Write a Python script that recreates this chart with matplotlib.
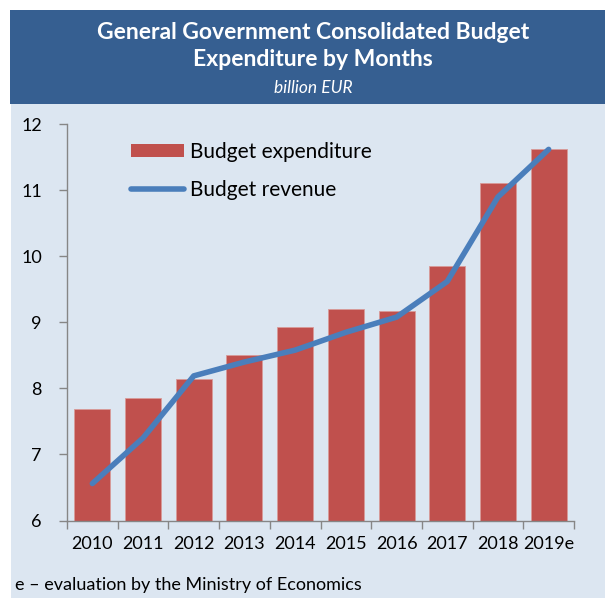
import matplotlib
matplotlib.use("Agg")
import matplotlib.pyplot as plt
from matplotlib.patches import Rectangle
from matplotlib.lines import Line2D

years = ["2010", "2011", "2012", "2013", "2014", "2015", "2016", "2017", "2018", "2019e"]
expenditure = [7.69, 7.86, 8.14, 8.51, 8.93, 9.20, 9.17, 9.85, 11.11, 11.63]
revenue = [6.56, 7.25, 8.19, 8.40, 8.58, 8.85, 9.08, 9.62, 10.90, 11.62]

title_lines = "General Government Consolidated Budget\nExpenditure by Months"
subtitle = "billion EUR"
footnote = "e \u2013 evaluation by the Ministry of Economics"

W, H = 605, 598
plt.rcParams["font.family"] = ["Lato", "DejaVu Sans"]

fig = plt.figure(figsize=(W / 100, H / 100), dpi=100)
fig.patch.set_facecolor("white")

def fx(px):
    return px / W

def fy(py):
    return 1 - py / H

# header band and light panel
fig.add_artist(Rectangle((fx(10), fy(104)), 1 - fx(10), fy(10) - fy(104),
                         transform=fig.transFigure, facecolor="#365F91",
                         edgecolor="none", zorder=0))
fig.add_artist(Rectangle((fx(11), 0), 1 - fx(11), fy(104),
                         transform=fig.transFigure, facecolor="#DCE6F1",
                         edgecolor="none", zorder=0))

fig.text(fx(313), fy(46), title_lines, ha="center", va="center", color="white",
         fontsize=16.5, fontweight="bold", linespacing=1.35)
fig.text(fx(313), fy(88), subtitle, ha="center", va="center", color="white",
         fontsize=12.5, fontstyle="italic")
fig.text(fx(15), fy(585), footnote, ha="left", va="center", color="black",
         fontsize=13)

ax = fig.add_axes([fx(67), fy(520.5), fx(574) - fx(67), fy(124.3) - fy(520.5)])
ax.set_facecolor("none")

x = list(range(len(years)))
ax.bar(x, expenditure, width=0.71, bottom=0, color="#C0504D",
       edgecolor="#D89A99", linewidth=0.6, label="Budget expenditure", zorder=2)
ax.plot(x, revenue, color="#4A7EBB", linewidth=4, solid_capstyle="round",
        solid_joinstyle="round", label="Budget revenue", zorder=3)

ax.set_xlim(-0.5, len(years) - 0.5)
ax.set_ylim(6, 12)
ax.set_yticks(range(6, 13))
ax.set_xticks(x)
ax.set_xticklabels(years)
ax.set_xticks([i - 0.5 for i in range(len(years) + 1)], minor=True)

for side in ("top", "right"):
    ax.spines[side].set_visible(False)
for side in ("left", "bottom"):
    ax.spines[side].set_color("#868686")
    ax.spines[side].set_linewidth(1.0)

ax.tick_params(axis="x", which="major", length=0, pad=11, labelsize=13,
               colors="black")
ax.tick_params(axis="x", which="minor", length=6, width=1.0, color="#868686")
ax.tick_params(axis="y", which="major", length=6, width=1.0, color="#868686",
               pad=12, labelsize=13, labelcolor="black")

handles = [Rectangle((0, 0), 1, 1, facecolor="#C0504D", edgecolor="none"),
           Line2D([], [], color="#4A7EBB", linewidth=4, solid_capstyle="round")]
leg = ax.legend(handles, ["Budget expenditure", "Budget revenue"],
                loc="upper left", bbox_to_anchor=(fx(131), fy(142)),
                bbox_transform=fig.transFigure, frameon=False, fontsize=15,
                handlelength=2.55, handleheight=0.55, handletextpad=0.3,
                labelspacing=0.85, borderpad=0, borderaxespad=0)

fig.savefig("out.png", dpi=100, facecolor=fig.get_facecolor())
